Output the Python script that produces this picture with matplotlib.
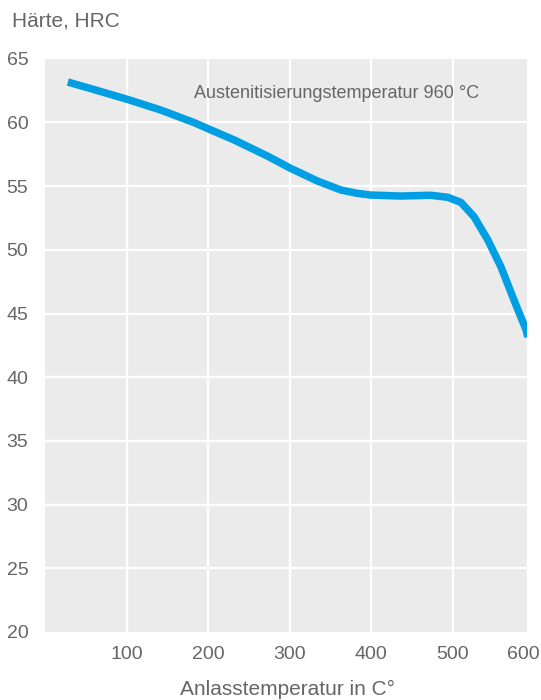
import matplotlib
matplotlib.use("Agg")
import matplotlib.pyplot as plt

# Data
temp = [28, 60, 101, 142, 183, 203, 232, 273, 301, 334, 363, 383, 399,
        436, 473, 494, 510, 526, 543, 559, 575, 590, 592]
hardness = [63.17, 62.58, 61.81, 60.97, 59.98, 59.42, 58.62, 57.35, 56.40,
            55.40, 54.69, 54.43, 54.30, 54.22, 54.28, 54.12, 53.72, 52.60,
            50.77, 48.67, 46.06, 43.70, 43.15]

x_ticks = [100, 200, 300, 400, 500, 587]
x_tick_labels = ["100", "200", "300", "400", "500", "600"]
y_ticks = [20, 25, 30, 35, 40, 45, 50, 55, 60, 65]
y_tick_labels = [str(v) for v in y_ticks]

title = "Härte, HRC"
xlabel = "Anlasstemperatur in C°"
note = "Austenitisierungstemperatur 960 °C"

TXT = "#666666"
plt.rcParams['font.family'] = ['Liberation Sans', 'DejaVu Sans']

W, H = 541, 700
fig = plt.figure(figsize=(W / 100, H / 100), dpi=100)
left, right, top, bottom = 45, 527, 58.7, 632
ax = fig.add_axes([left / W, 1 - bottom / H, (right - left) / W, (bottom - top) / H])
ax.set_facecolor("#ebebeb")
for s in ax.spines.values():
    s.set_visible(False)

ax.set_xlim(0, 591)
ax.set_ylim(20, 65)

# grid
for v in [100, 200, 300, 400, 500]:
    ax.axvline(v, color="white", lw=1.6, zorder=1)
for v in [25, 30, 35, 40, 45, 50, 55, 60]:
    ax.axhline(v, color="white", lw=1.6, zorder=1)

ax.plot(temp, hardness, color="#009fe3", lw=5.4, solid_capstyle="butt",
        solid_joinstyle="round", zorder=3)

ax.set_xticks(x_ticks)
ax.set_xticklabels(x_tick_labels)
ax.set_yticks(y_ticks)
ax.set_yticklabels(y_tick_labels)
ax.tick_params(axis="both", length=0, labelsize=14, labelcolor=TXT)
ax.tick_params(axis="x", pad=10)
ax.tick_params(axis="y", pad=12)

fig.text(12 / W, 1 - 21 / H, title, fontsize=15, color=TXT, ha="left", va="center")
fig.text(287 / W, 1 - 689 / H, xlabel, fontsize=15, color=TXT, ha="center", va="center")
ax.text(183, 65 - (93 - 58.7) / 12.74, note, fontsize=13, color=TXT, ha="left", va="center")

fig.savefig("out.png", dpi=100)
